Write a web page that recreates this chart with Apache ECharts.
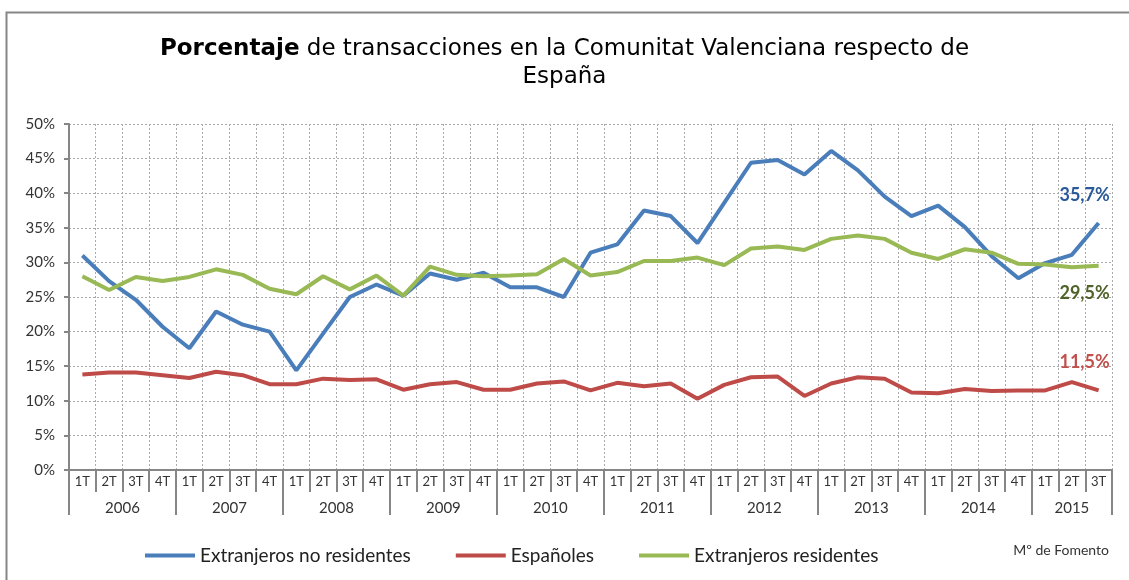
<!DOCTYPE html>
<html>
<head>
<meta charset="utf-8">
<script src="https://cdn.jsdelivr.net/npm/echarts@6/dist/echarts.min.js"></script>
<style>
  html, body { margin: 0; padding: 0; background: #fff; }
  #chart { width: 1129px; height: 580px; }
</style>
</head>
<body>
<div id="chart"></div>
<script>
// trimestres 2006 1T .. 2015 3T
const years = ['2006', '2007', '2008', '2009', '2010', '2011', '2012', '2013', '2014', '2015']
const quarters = []
years.forEach(function (y) {
  ['1T', '2T', '3T', '4T'].forEach(function (q) {
    if (!(y === '2015' && q === '4T')) quarters.push(q)
  })
})

const noResidentes = [31.0, 27.3, 24.6, 20.7, 17.6, 22.9, 21.0, 20.0, 14.4, 19.7, 25.0, 26.8,
  25.2, 28.4, 27.5, 28.5, 26.4, 26.4, 25.0, 31.4, 32.6, 37.5, 36.7, 32.8,
  38.6, 44.4, 44.8, 42.7, 46.1, 43.3, 39.5, 36.7, 38.2, 35.1, 30.9, 27.7,
  29.9, 31.1, 35.7]
const espanoles = [13.8, 14.1, 14.1, 13.7, 13.3, 14.2, 13.7, 12.4, 12.4, 13.2, 13.0, 13.1,
  11.6, 12.4, 12.7, 11.6, 11.6, 12.5, 12.8, 11.5, 12.6, 12.1, 12.5, 10.3,
  12.3, 13.4, 13.5, 10.7, 12.5, 13.4, 13.2, 11.2, 11.1, 11.7, 11.4, 11.5,
  11.5, 12.7, 11.5]
const residentes = [28.0, 26.0, 27.9, 27.3, 27.9, 29.0, 28.2, 26.2, 25.4, 28.0, 26.1, 28.1,
  25.2, 29.4, 28.2, 28.0, 28.1, 28.3, 30.5, 28.1, 28.6, 30.2, 30.2, 30.7,
  29.6, 32.0, 32.3, 31.8, 33.4, 33.9, 33.4, 31.4, 30.5, 31.9, 31.4, 29.8,
  29.7, 29.3, 29.5]

const FONT = 'Lato, "DejaVu Sans", sans-serif'
const TITLE_FONT = '"DejaVu Sans", sans-serif'
const GREY = '#868686'

function lineSeries (name, values, color, labelColor, dy) {
  return {
    name: name,
    type: 'line',
    data: values,
    color: color,
    symbol: 'none',
    lineStyle: { width: 4 },
    // valor final sobre / bajo el último punto
    endLabel: {
      show: true,
      distance: 0,
      align: 'center',
      verticalAlign: 'middle',
      offset: [-14, dy],
      color: labelColor,
      fontFamily: FONT,
      fontWeight: 'bold',
      fontSize: 18,
      formatter: function (p) { return p.value.toFixed(1).replace('.', ',') + '%' }
    }
  }
}

const chart = echarts.init(document.getElementById('chart'))
chart.setOption({
  animation: false,
  textStyle: { fontFamily: FONT },
  title: {
    left: 'center',
    top: 30,
    text: '{b|Porcentaje} de transacciones en la Comunitat Valenciana respecto de\nEspaña',
    textStyle: {
      fontFamily: TITLE_FONT,
      fontSize: 23,
      fontWeight: 'normal',
      color: '#000',
      lineHeight: 28,
      align: 'center',
      rich: {
        b: { fontFamily: TITLE_FONT, fontSize: 23, fontWeight: 'bold', color: '#000' }
      }
    }
  },
  grid: { left: 69, right: 17, top: 124, bottom: 110 },
  legend: {
    left: 140,
    top: 541,
    icon: 'rect',
    itemWidth: 50,
    itemHeight: 4,
    itemGap: 45,
    textStyle: { fontFamily: FONT, fontSize: 19, color: '#222' },
    data: ['Extranjeros no residentes', 'Españoles', 'Extranjeros residentes']
  },
  graphic: [
    {
      type: 'rect',
      shape: { x: 6.5, y: 12.5, width: 1200, height: 700 },
      style: { fill: 'none', stroke: GREY, lineWidth: 2 },
      silent: true
    },
    {
      type: 'text',
      right: 20,
      top: 543,
      style: { text: 'Mº de Fomento', font: '14px ' + FONT, fill: '#333' }
    }
  ],
  xAxis: [
    {
      type: 'category',
      data: quarters,
      boundaryGap: true,
      axisLine: { show: true, onZero: false, lineStyle: { color: GREY, width: 2 } },
      axisTick: { show: true, interval: 0, length: 22, lineStyle: { color: GREY, width: 2 } },
      axisLabel: { interval: 0, margin: 5, fontSize: 13, color: '#333', fontFamily: FONT },
      splitLine: { show: true, interval: 0, lineStyle: { color: '#aaa', type: [2, 2] } }
    },
    {
      type: 'category',
      data: quarters,
      boundaryGap: true,
      position: 'bottom',
      axisLine: { show: false, onZero: false },
      axisTick: {
        show: true,
        length: 45,
        interval: function (i) { return i % 4 === 0 },
        lineStyle: { color: GREY, width: 2 }
      },
      axisLabel: { show: false },
      splitLine: { show: false }
    },
    {
      type: 'value',
      min: -0.5,
      max: quarters.length - 0.5,
      interval: 0.5,
      position: 'bottom',
      axisLine: { show: false, onZero: false },
      axisTick: { show: false },
      splitLine: { show: false },
      axisLabel: {
        margin: 31,
        fontSize: 15,
        color: '#333',
        fontFamily: FONT,
        formatter: function (v) {
          // centro de cada año
          for (let k = 0; k < years.length; k++) {
            const start = k * 4
            const end = Math.min(start + 3, quarters.length - 1)
            if (Math.abs(v - (start + end) / 2) < 1e-6) return years[k]
          }
          return ''
        }
      }
    }
  ],
  yAxis: {
    type: 'value',
    min: 0,
    max: 50,
    interval: 5,
    axisLine: { show: true, onZero: false, lineStyle: { color: GREY, width: 2 } },
    axisTick: { show: true, length: 5, lineStyle: { color: GREY, width: 2 } },
    axisLabel: { formatter: '{value}%', fontSize: 15, color: '#333', margin: 14, fontFamily: FONT },
    splitLine: { lineStyle: { color: '#aaa', type: [2, 2] } }
  },
  series: [
    lineSeries('Extranjeros no residentes', noResidentes, '#4a7ebb', '#2a5a9a', -28),
    lineSeries('Españoles', espanoles, '#be4b48', '#c0504d', -28),
    lineSeries('Extranjeros residentes', residentes, '#98b954', '#4f6228', 27)
  ]
})
</script>
</body>
</html>
